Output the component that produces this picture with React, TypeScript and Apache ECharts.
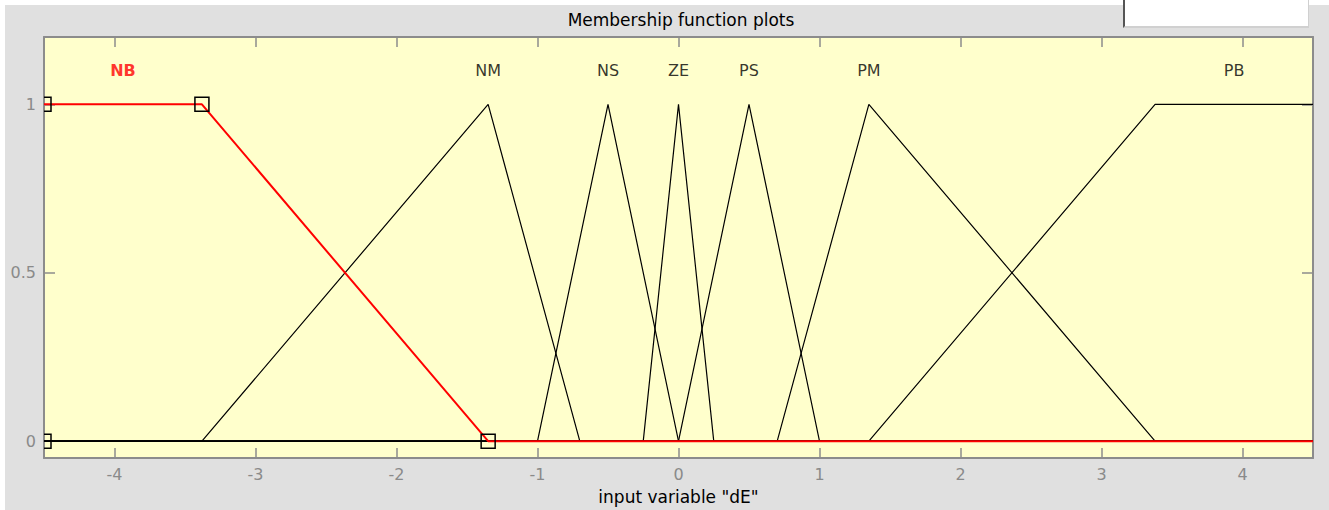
import React, { useEffect, useRef } from "react";
import * as echarts from "echarts";

// Membership functions of the input variable "dE"
const xRange = [-4.5, 4.5];
const mfNames = ["NB", "NM", "NS", "ZE", "PS", "PM", "PB"];
const mfTypes = ["trapmf", "trimf", "trimf", "trimf", "trimf", "trimf", "trapmf"];
const mfParams = [
  [-4.5, -4.5, -3.38, -1.35],
  [-3.38, -1.35, -0.7],
  [-1, -0.5, 0],
  [-0.25, 0, 0.25],
  [0, 0.5, 1],
  [0.7, 1.35, 3.38],
  [1.35, 3.38, 4.5, 4.5],
];
const selectedIndex = 0; // NB is highlighted
const xTickValues = [-4, -3, -2, -1, 0, 1, 2, 3, 4];
const yTickValues = [0, 0.5, 1];
const labelLevel = 1.1;

// Evaluate an MF at a given x
function mfValue(type: string, p: number[], x: number): number {
  if (type === "trimf") {
    const [a, b, c] = p;
    if (x <= a || x >= c) return x === b ? 1 : 0;
    return x <= b ? (x - a) / (b - a) : (c - x) / (c - b);
  }
  const [a, b, c, d] = p;
  if (x >= b && x <= c) return 1;
  if (x < b) return x <= a ? 0 : (x - a) / (b - a);
  return x >= d ? 0 : (d - x) / (d - c);
}

// Polyline through the range ends and the MF breakpoints
function mfPoints(type: string, p: number[]): number[][] {
  const xs = Array.from(new Set([xRange[0], ...p, xRange[1]])).sort((a, b) => a - b);
  return xs.map((x) => [x, mfValue(type, p, x)]);
}

function mfCenter(type: string, p: number[]): number {
  return type === "trimf" ? p[1] : (p[1] + p[2]) / 2;
}

// Handles at the parameter points of an MF
function mfHandles(type: string, p: number[]): number[][] {
  if (type === "trapmf") {
    return [
      [p[0], 0],
      [p[1], 1],
      [p[2], 1],
      [p[3], 0],
    ];
  }
  return [
    [p[0], 0],
    [p[1], 1],
    [p[2], 0],
  ];
}

const FONT = "DejaVu Sans";

export default function App() {
  const ref = useRef<HTMLDivElement>(null);

  useEffect(() => {
    if (!ref.current) return;
    const chart = echarts.init(ref.current, null, { renderer: "svg" });

    const lineSeries: any[] = mfNames.map((name, i) => ({
      type: "line",
      name,
      data: mfPoints(mfTypes[i], mfParams[i]),
      showSymbol: false,
      symbol: "none",
      clip: true,
      z: i === selectedIndex ? 5 : 2,
      lineStyle: {
        color: i === selectedIndex ? "#ff0000" : "#000000",
        width: i === selectedIndex ? 2 : 1.2,
      },
    }));
    // keep the highlighted MF drawn last
    const ordered = [
      ...lineSeries.filter((_, i) => i !== selectedIndex),
      lineSeries[selectedIndex],
    ];

    const labelData = mfNames.map((name, i) => ({
      value: [mfCenter(mfTypes[i], mfParams[i]), labelLevel],
      name,
      label:
        i === selectedIndex
          ? { color: "#ff0000", fontWeight: "bold" }
          : { color: "#000000" },
    }));

    const selHandles = mfHandles(mfTypes[selectedIndex], mfParams[selectedIndex]);

    const axisColor = "#8c8c8c";

    chart.setOption({
      animation: false,
      backgroundColor: "transparent",
      title: {
        text: "Membership function plots",
        left: 676,
        top: 6,
        textAlign: "center",
        textStyle: { fontFamily: FONT, fontSize: 17, fontWeight: "normal", color: "#000" },
      },
      grid: {
        left: 44,
        top: 37,
        width: 1269,
        height: 424,
        show: true,
        backgroundColor: "#ffffcc",
        borderWidth: 0,
      },
      xAxis: [
        {
          type: "value",
          min: xRange[0],
          max: xRange[1],
          position: "bottom",
          name: 'input variable "dE"',
          nameLocation: "middle",
          nameGap: 30,
          nameTextStyle: { fontFamily: FONT, fontSize: 17, color: "#000", verticalAlign: "top" },
          axisLine: { show: true, onZero: false, lineStyle: { color: axisColor, width: 2 } },
          axisTick: { show: true, inside: true, length: 10, customValues: xTickValues, lineStyle: { color: axisColor, width: 1.5 } },
          axisLabel: { show: true, customValues: xTickValues, margin: 8, fontFamily: FONT, fontSize: 16, color: "#8a8a8a" },
          splitLine: { show: false },
        },
        {
          type: "value",
          min: xRange[0],
          max: xRange[1],
          position: "top",
          axisLine: { show: true, onZero: false, lineStyle: { color: axisColor, width: 2 } },
          axisTick: { show: true, inside: true, length: 10, customValues: xTickValues, lineStyle: { color: axisColor, width: 1.5 } },
          axisLabel: { show: false },
          splitLine: { show: false },
        },
      ],
      yAxis: [
        {
          type: "value",
          min: -0.05,
          max: 1.2,
          position: "left",
          axisLine: { show: true, onZero: false, lineStyle: { color: axisColor, width: 2 } },
          axisTick: { show: true, inside: true, length: 11, customValues: yTickValues, lineStyle: { color: axisColor, width: 1.5 } },
          axisLabel: { show: true, customValues: yTickValues, margin: 8, fontFamily: FONT, fontSize: 16, color: "#8a8a8a" },
          splitLine: { show: false },
        },
        {
          type: "value",
          min: -0.05,
          max: 1.2,
          position: "right",
          axisLine: { show: true, onZero: false, lineStyle: { color: axisColor, width: 2 } },
          axisTick: { show: true, inside: true, length: 11, customValues: yTickValues, lineStyle: { color: axisColor, width: 1.5 } },
          axisLabel: { show: false },
          splitLine: { show: false },
        },
      ],
      series: [
        ...ordered,
        {
          type: "custom",
          name: "handles",
          clip: true,
          z: 6,
          data: selHandles,
          renderItem: (params: any, api: any) => {
            const c = api.coord([api.value(0), api.value(1)]);
            const s = 14;
            return {
              type: "rect",
              shape: { x: c[0] - s / 2, y: c[1] - s / 2, width: s, height: s },
              style: { fill: "none", stroke: "#000", lineWidth: 1.5 },
            };
          },
        },
        {
          type: "scatter",
          name: "labels",
          symbolSize: 0,
          z: 7,
          data: labelData,
          label: {
            show: true,
            position: "inside",
            formatter: (d: any) => d.name,
            fontFamily: FONT,
            fontSize: 16,
          },
        },
      ],
    });

    return () => chart.dispose();
  }, []);

  return (
    <div
      style={{
        position: "fixed",
        left: 0,
        top: 0,
        width: 1329,
        height: 510,
        background: "#ffffff",
        overflow: "hidden",
      }}
    >
      <div
        style={{
          position: "absolute",
          left: 5,
          top: 5,
          right: 0,
          bottom: 0,
          background: "#e0e0e0",
        }}
      />
      <div
        style={{
          position: "absolute",
          left: 1123,
          top: 0,
          width: 186,
          height: 28,
          boxSizing: "border-box",
          background: "#ffffff",
          borderLeft: "2px solid #555555",
          borderRight: "1px solid #d0d0d0",
          borderBottom: "2px solid #d0d0d0",
        }}
      />
      <div
        ref={ref}
        style={{ position: "absolute", left: 0, top: 0, width: 1329, height: 510 }}
      />
    </div>
  );
}
